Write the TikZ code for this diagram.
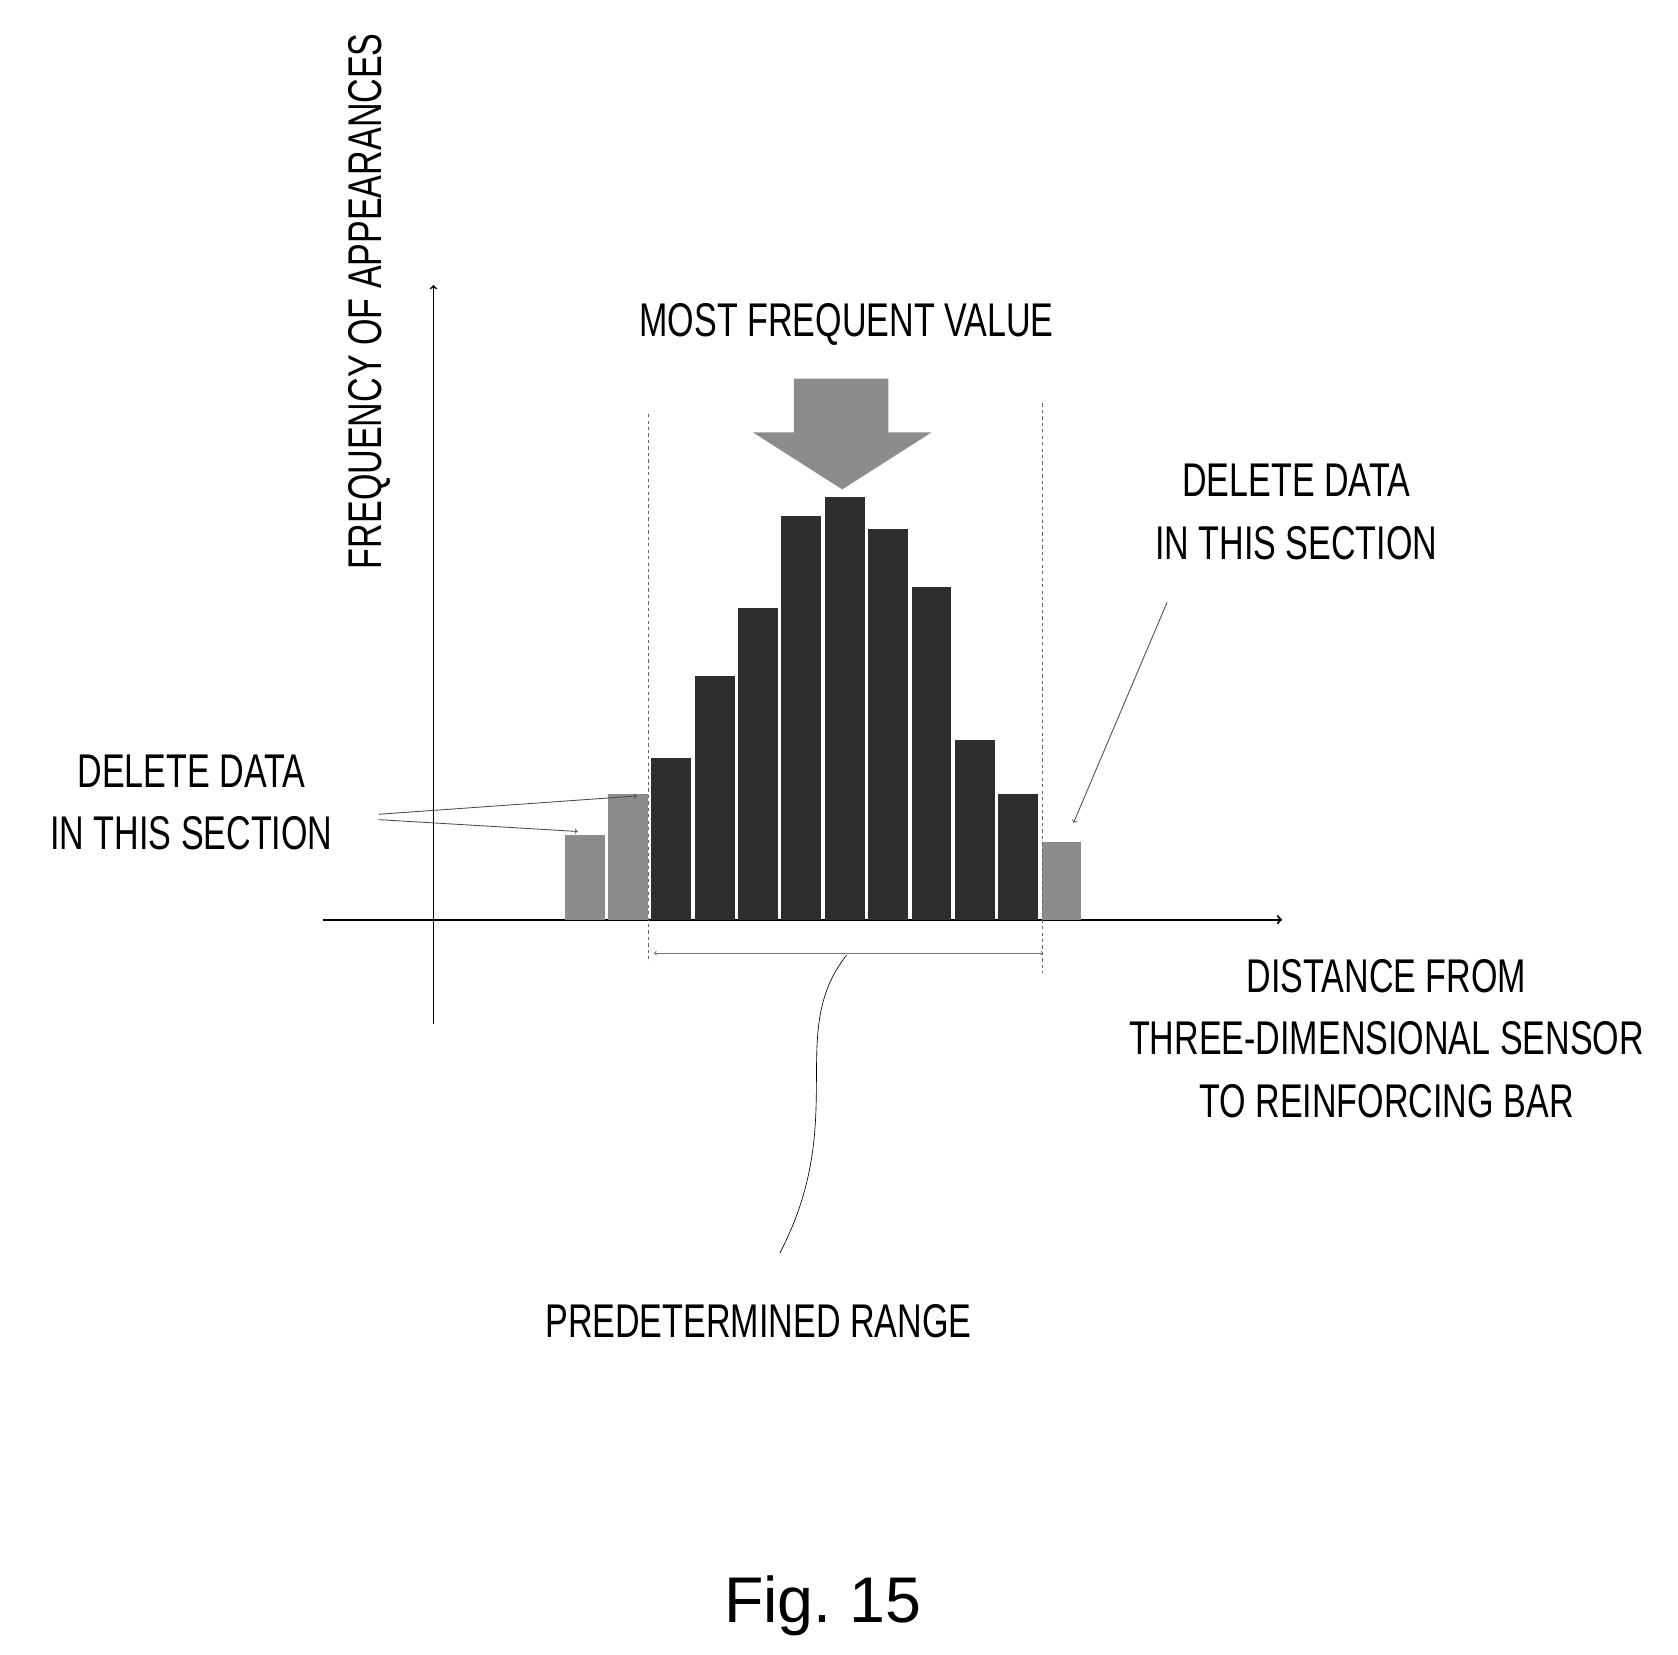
\documentclass[tikz,border=0pt]{standalone}
\usepackage{fontspec}
\setmainfont{Liberation Sans}
\usetikzlibrary{arrows}
\newcommand{\cond}[1]{\scalebox{0.72}[1]{#1}}
\begin{document}
\begin{tikzpicture}[x=1pt,y=-1pt,semithick,
  lbl/.style={font=\fontsize{44}{54}\selectfont,inner sep=0pt},
  darkbar/.style={fill=black!82,draw=none},
  lightbar/.style={fill=black!45,draw=none},
  pointer/.style={->,>=to,thick,black!70}]
\useasboundingbox (0,0) rectangle (1560,1538);
% axes
\coordinate (O) at (403,855);
\coordinate (Xe) at (1192,855);
\coordinate (Ye) at (403,265);
\draw[->,>=to,line width=2pt] (300,855)--(Xe);
\draw[->,>=to,line width=1.5pt] (403,952)--(Ye);
% histogram
\foreach \h [count=\i from 0] in {776,738,705,628,565,480,462,492,546,688,738,783}{
  \pgfmathsetmacro{\xl}{525+40.3*\i}
  \ifnum\i<2 \fill[lightbar] (\xl,855) rectangle ++(37,\h-855);
  \else\ifnum\i>10 \fill[lightbar] (\xl,855) rectangle ++(37,\h-855);
  \else \fill[darkbar] (\xl,855) rectangle ++(37,\h-855); \fi\fi
}
% predetermined range limits
\draw[dashed,black!60] (603,385)--(603,895);
\draw[dashed,black!60] (969,375)--(969,905);
\coordinate (RL) at (608,886);
\coordinate (RR) at (970,886);
\draw[<->,>=to,black!55,thick] (RL)--(RR);
% most frequent value arrow
\fill[black!45] (738,352)--(826,352)--(826,402)--(866,402)--(783,455)--(700,402)--(738,402)--cycle;
% labels
\node[lbl] (mfv) at (787,302) {\cond{MOST FREQUENT VALUE}};
\node[lbl,rotate=90] (freq) at (343,280) {\cond{FREQUENCY OF APPEARANCES}};
\node[lbl,align=center] (delL) at (178,750) {\cond{\begin{tabular}{@{}c@{}}DELETE DATA\\[4pt]IN THIS SECTION\end{tabular}}};
\node[lbl,align=center] (delR) at (1205,480) {\cond{\begin{tabular}{@{}c@{}}DELETE DATA\\[4pt]IN THIS SECTION\end{tabular}}};
\node[lbl] (dist) at (1289,970) {\cond{\begin{tabular}{@{}c@{}}DISTANCE FROM\\[4pt]THREE-DIMENSIONAL SENSOR\\[4pt]TO REINFORCING BAR\end{tabular}}};
\node[lbl] (range) at (705,1228) {\cond{PREDETERMINED RANGE}};
\node[font=\fontsize{60}{70}\selectfont,inner sep=0pt] (fig) at (765,1493) {Fig.\ 15};
% pointers
\draw[pointer] (352,757)--(592,740);
\draw[pointer] (352,762)--(537,773);
\draw[pointer] (1085,560)--(998,765);
\draw[black] (787,888) .. controls (730,960) and (790,1040) .. (725,1165);
\end{tikzpicture}
\end{document}
